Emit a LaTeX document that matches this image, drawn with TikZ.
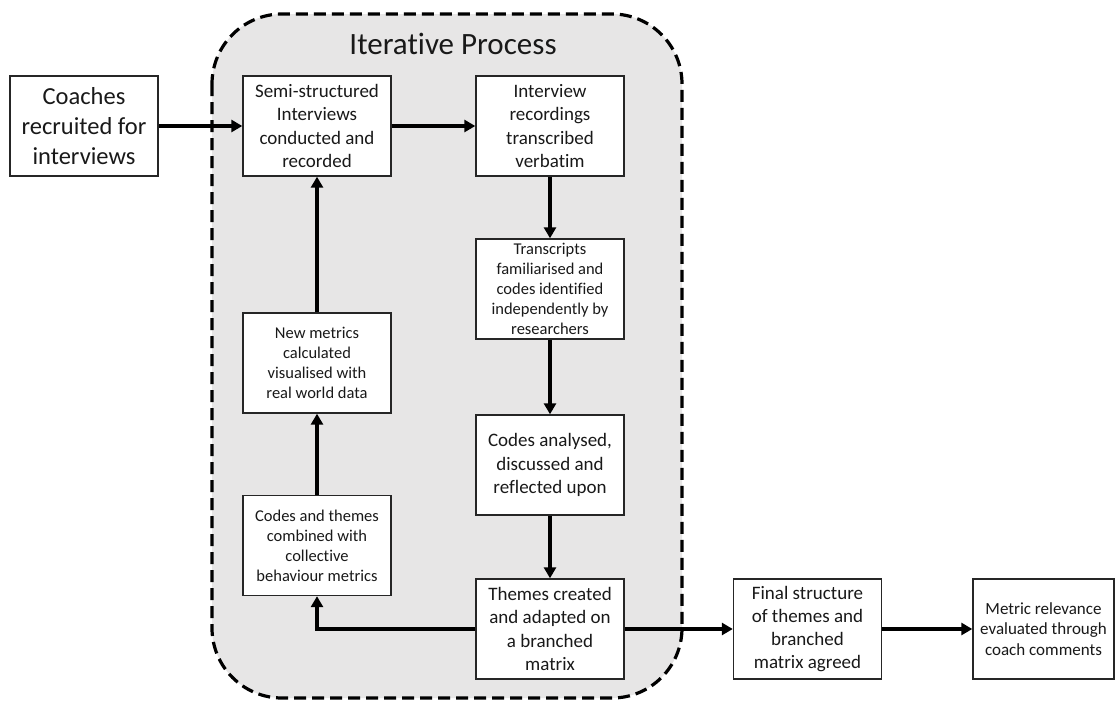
\documentclass[tikz,border=0pt]{standalone}
\usepackage{fontspec}
\setmainfont{Carlito}[Ligatures={NoCommon}]
\usetikzlibrary{arrows.meta}
\definecolor{regiongray}{HTML}{E7E6E6}
\definecolor{boxline}{HTML}{262626}
\tikzset{
  stepbox/.style={draw=boxline, line width=1.4pt, fill=white, minimum width=148pt, minimum height=100pt, align=center, inner sep=2pt, text=black!90},
  bigtext/.style={font=\fontsize{19}{23.3}\selectfont},
  smalltext/.style={font=\fontsize{16.5}{20}\selectfont},
  flow/.style={line width=3.6pt, -{Triangle[length=11pt,width=12pt]}},
}
\begin{document}
\begin{tikzpicture}[x=1pt,y=-1pt]
\useasboundingbox (0,0) rectangle (1116,702);
% iterative region
\draw[fill=regiongray, line width=3.2pt, dash pattern=on 12pt off 6pt, rounded corners=70pt] (212,14) rectangle (682,698);
\node[font=\fontsize{31}{36}\selectfont, text=black!90] (title) at (453,44) {Iterative Process};

\node[stepbox, font=\fontsize{24.5}{30}\selectfont] (b1) at (84,126) {Coaches\\recruited for\\interviews};
\node[stepbox, bigtext] (b2) at (317,126) {Semi-structured\\Interviews\\conducted and\\recorded};
\node[stepbox, bigtext] (b3) at (550,126) {Interview\\recordings\\transcribed\\verbatim};
\node[stepbox, smalltext] (b4) at (550,289) {Transcripts\\familiarised and\\codes identified\\independently by\\researchers};
\node[stepbox, bigtext] (b5) at (550,465) {Codes analysed,\\discussed and\\reflected upon};
\node[stepbox, bigtext] (b6) at (550,629) {Themes created\\and adapted on\\a branched\\matrix};
\node[stepbox, smalltext] (b7) at (317,545.5) {Codes and themes\\combined with\\collective\\behaviour metrics};
\node[stepbox, smalltext] (b8) at (317,363) {New metrics\\calculated\\visualised with\\real world data};
\node[stepbox, bigtext] (b9) at (807.5,629) {Final structure\\of themes and\\branched\\matrix agreed};
\node[stepbox, font=\fontsize{17}{20.8}\selectfont, minimum width=141pt] (b10) at (1043.5,629) {Metric relevance\\evaluated through\\coach comments};

\draw[flow] (b1) -- (b2);
\draw[flow] (b2) -- (b3);
\draw[flow] (b3) -- (b4);
\draw[flow] (b4) -- (b5);
\draw[flow] (b5) -- (b6);
\draw[flow] (b6.west) -| (b7.south);
\draw[flow] (b7) -- (b8);
\draw[flow] (b8) -- (b2);
\draw[flow] (b6) -- (b9);
\draw[flow] (b9) -- (b10);
\end{tikzpicture}
\end{document}
